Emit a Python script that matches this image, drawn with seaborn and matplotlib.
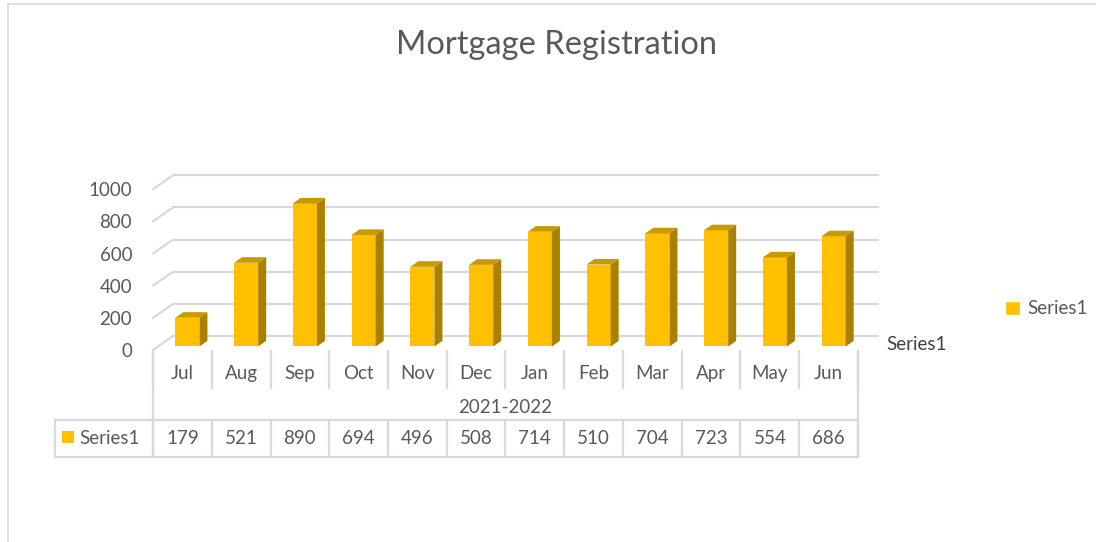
import numpy as np
import pandas as pd
import matplotlib
matplotlib.use("Agg")
import matplotlib.pyplot as plt
from matplotlib.patches import Polygon, Patch, Rectangle
from matplotlib.lines import Line2D
import seaborn as sns

# 数据
months = ['Jul', 'Aug', 'Sep', 'Oct', 'Nov', 'Dec', 'Jan', 'Feb', 'Mar', 'Apr', 'May', 'Jun']
values = [179, 521, 890, 694, 496, 508, 714, 510, 704, 723, 554, 686]
period_label = '2021-2022'
series_name = 'Series1'
y_ticks = [0, 200, 400, 600, 800, 1000]
title = 'Mortgage Registration'

# 颜色
front_col = '#FFC000'
side_col = '#A98000'
top_col = '#C99A00'
grid_col = '#D9D9D9'
text_col = '#595959'

sns.set_theme(style='white')
plt.rcParams['font.family'] = ['Lato', 'DejaVu Sans']

W, H = 1096, 542
fig = plt.figure(figsize=(W / 100, H / 100), dpi=100)

# 像素比例 (和原图一致)
PX_CAT = 58.75      # 每个类别的像素宽度
PX_VAL = 0.1607     # 每个数值单位的像素高度
X0PX, Y0PX = 153, 350
DX = 20 / PX_CAT    # 3D 深度偏移
DY = 14 / PX_VAL


def dx(xpx):
    return (xpx - X0PX) / PX_CAT - 0.5


def dy(ypx):
    return (Y0PX - ypx) / PX_VAL


ax = fig.add_axes([X0PX / W, (H - Y0PX) / H, 725 / W, 180 / H])
ax.set_facecolor('none')

df = pd.DataFrame({'month': months, 'value': values})
sns.barplot(data=df, x='month', y='value', color=front_col, saturation=1,
            width=0.41, ax=ax, zorder=3, linewidth=0, edgecolor='none')

# 背景网格线 (后墙 + 左侧斜线)
x_left, x_right = -0.5, len(months) - 0.5
for v in y_ticks:
    ax.plot([x_left + DX, x_right + DX], [v + DY, v + DY], color=grid_col, lw=1.6, zorder=1, clip_on=False)
    ax.plot([x_left, x_left + DX], [v, v + DY], color=grid_col, lw=1.6, zorder=1, clip_on=False)

# 伪3D柱子
f0, depth = 0.25, 0.4
for bar in ax.patches:
    bar.set_x(bar.get_x() + f0 * DX)
    bar.set_y(bar.get_y() + f0 * DY)
    x0, y0 = bar.get_x(), bar.get_y()
    w, h = bar.get_width(), bar.get_height()
    ox, oy = depth * DX, depth * DY
    side = Polygon([(x0 + w, y0), (x0 + w + ox, y0 + oy), (x0 + w + ox, y0 + h + oy), (x0 + w, y0 + h)],
                   closed=True, facecolor=side_col, edgecolor='none', zorder=3)
    top = Polygon([(x0, y0 + h), (x0 + ox, y0 + h + oy), (x0 + w + ox, y0 + h + oy), (x0 + w, y0 + h)],
                  closed=True, facecolor=top_col, edgecolor='none', zorder=3)
    ax.add_patch(side)
    ax.add_patch(top)

ax.set_xlim(-0.5, len(months) - 0.5 + DX)
ax.set_ylim(0, 1120)
ax.set_yticks(y_ticks)
ax.set_yticklabels([str(v) for v in y_ticks], color=text_col, fontsize=13.5)
ax.tick_params(axis='y', length=0, pad=15)
ax.set_xticks([])
ax.set_xlabel('')
ax.set_ylabel('')
sns.despine(ax=ax, left=True, bottom=True)

# 数据表
lkw = dict(color=grid_col, lw=1.6, clip_on=False, zorder=1)
row1_top, row1_bot = dy(351), dy(388)
row3_top, row3_bot = dy(420), dy(457)
for i in range(len(months) + 1):
    xb = i - 0.5
    ax.plot([xb, xb], [row1_top, row1_bot], **lkw)
    ax.plot([xb, xb], [row3_top, row3_bot], **lkw)
ax.plot([x_left, x_left], [row1_top, row3_bot], **lkw)
ax.plot([x_right, x_right], [row1_top, row3_bot], **lkw)
ax.plot([dx(55), x_right], [row3_top, row3_top], **lkw)
ax.plot([dx(55), x_right], [row3_bot, row3_bot], **lkw)
ax.plot([dx(55), dx(55)], [row3_top, row3_bot], **lkw)

for i, (m, v) in enumerate(zip(months, values)):
    ax.text(i, dy(373), m, ha='center', va='center', fontsize=13.5, color=text_col, clip_on=False)
    ax.text(i, dy(438), str(v), ha='center', va='center', fontsize=13.5, color=text_col, clip_on=False)
ax.text((len(months) - 1) / 2, dy(407), period_label, ha='center', va='center',
        fontsize=13.5, color=text_col, clip_on=False)

# 表格中的图例
ax.add_patch(Rectangle((dx(62), dy(443)), 12 / PX_CAT, 12 / PX_VAL, facecolor=front_col,
                       edgecolor='none', clip_on=False))
ax.text(dx(79), dy(438), series_name, ha='left', va='center', fontsize=13.5, color=text_col, clip_on=False)

# 深度轴标签
ax.text(dx(886), dy(345), series_name, ha='left', va='center', fontsize=13.5, color='#404040', clip_on=False)

# 标题
fig.text(556 / W, 1 - 45 / H, title, ha='center', va='center', fontsize=23.5, color=text_col)

# 右侧图例
fig.legend(handles=[Patch(facecolor=front_col, label=series_name)], loc='center left',
           bbox_to_anchor=(988 / W, 1 - 309 / H), frameon=False, fontsize=13.5,
           handlelength=0.8, handleheight=0.8, handletextpad=0.4, labelcolor=text_col)

# 图表外框
fig.add_artist(Line2D([8 / W, 8 / W], [0, 1 - 4 / H], color=grid_col, lw=1.2))
fig.add_artist(Line2D([8 / W, 1], [1 - 4 / H, 1 - 4 / H], color=grid_col, lw=1.2))

fig.savefig('out.png', dpi=100)
